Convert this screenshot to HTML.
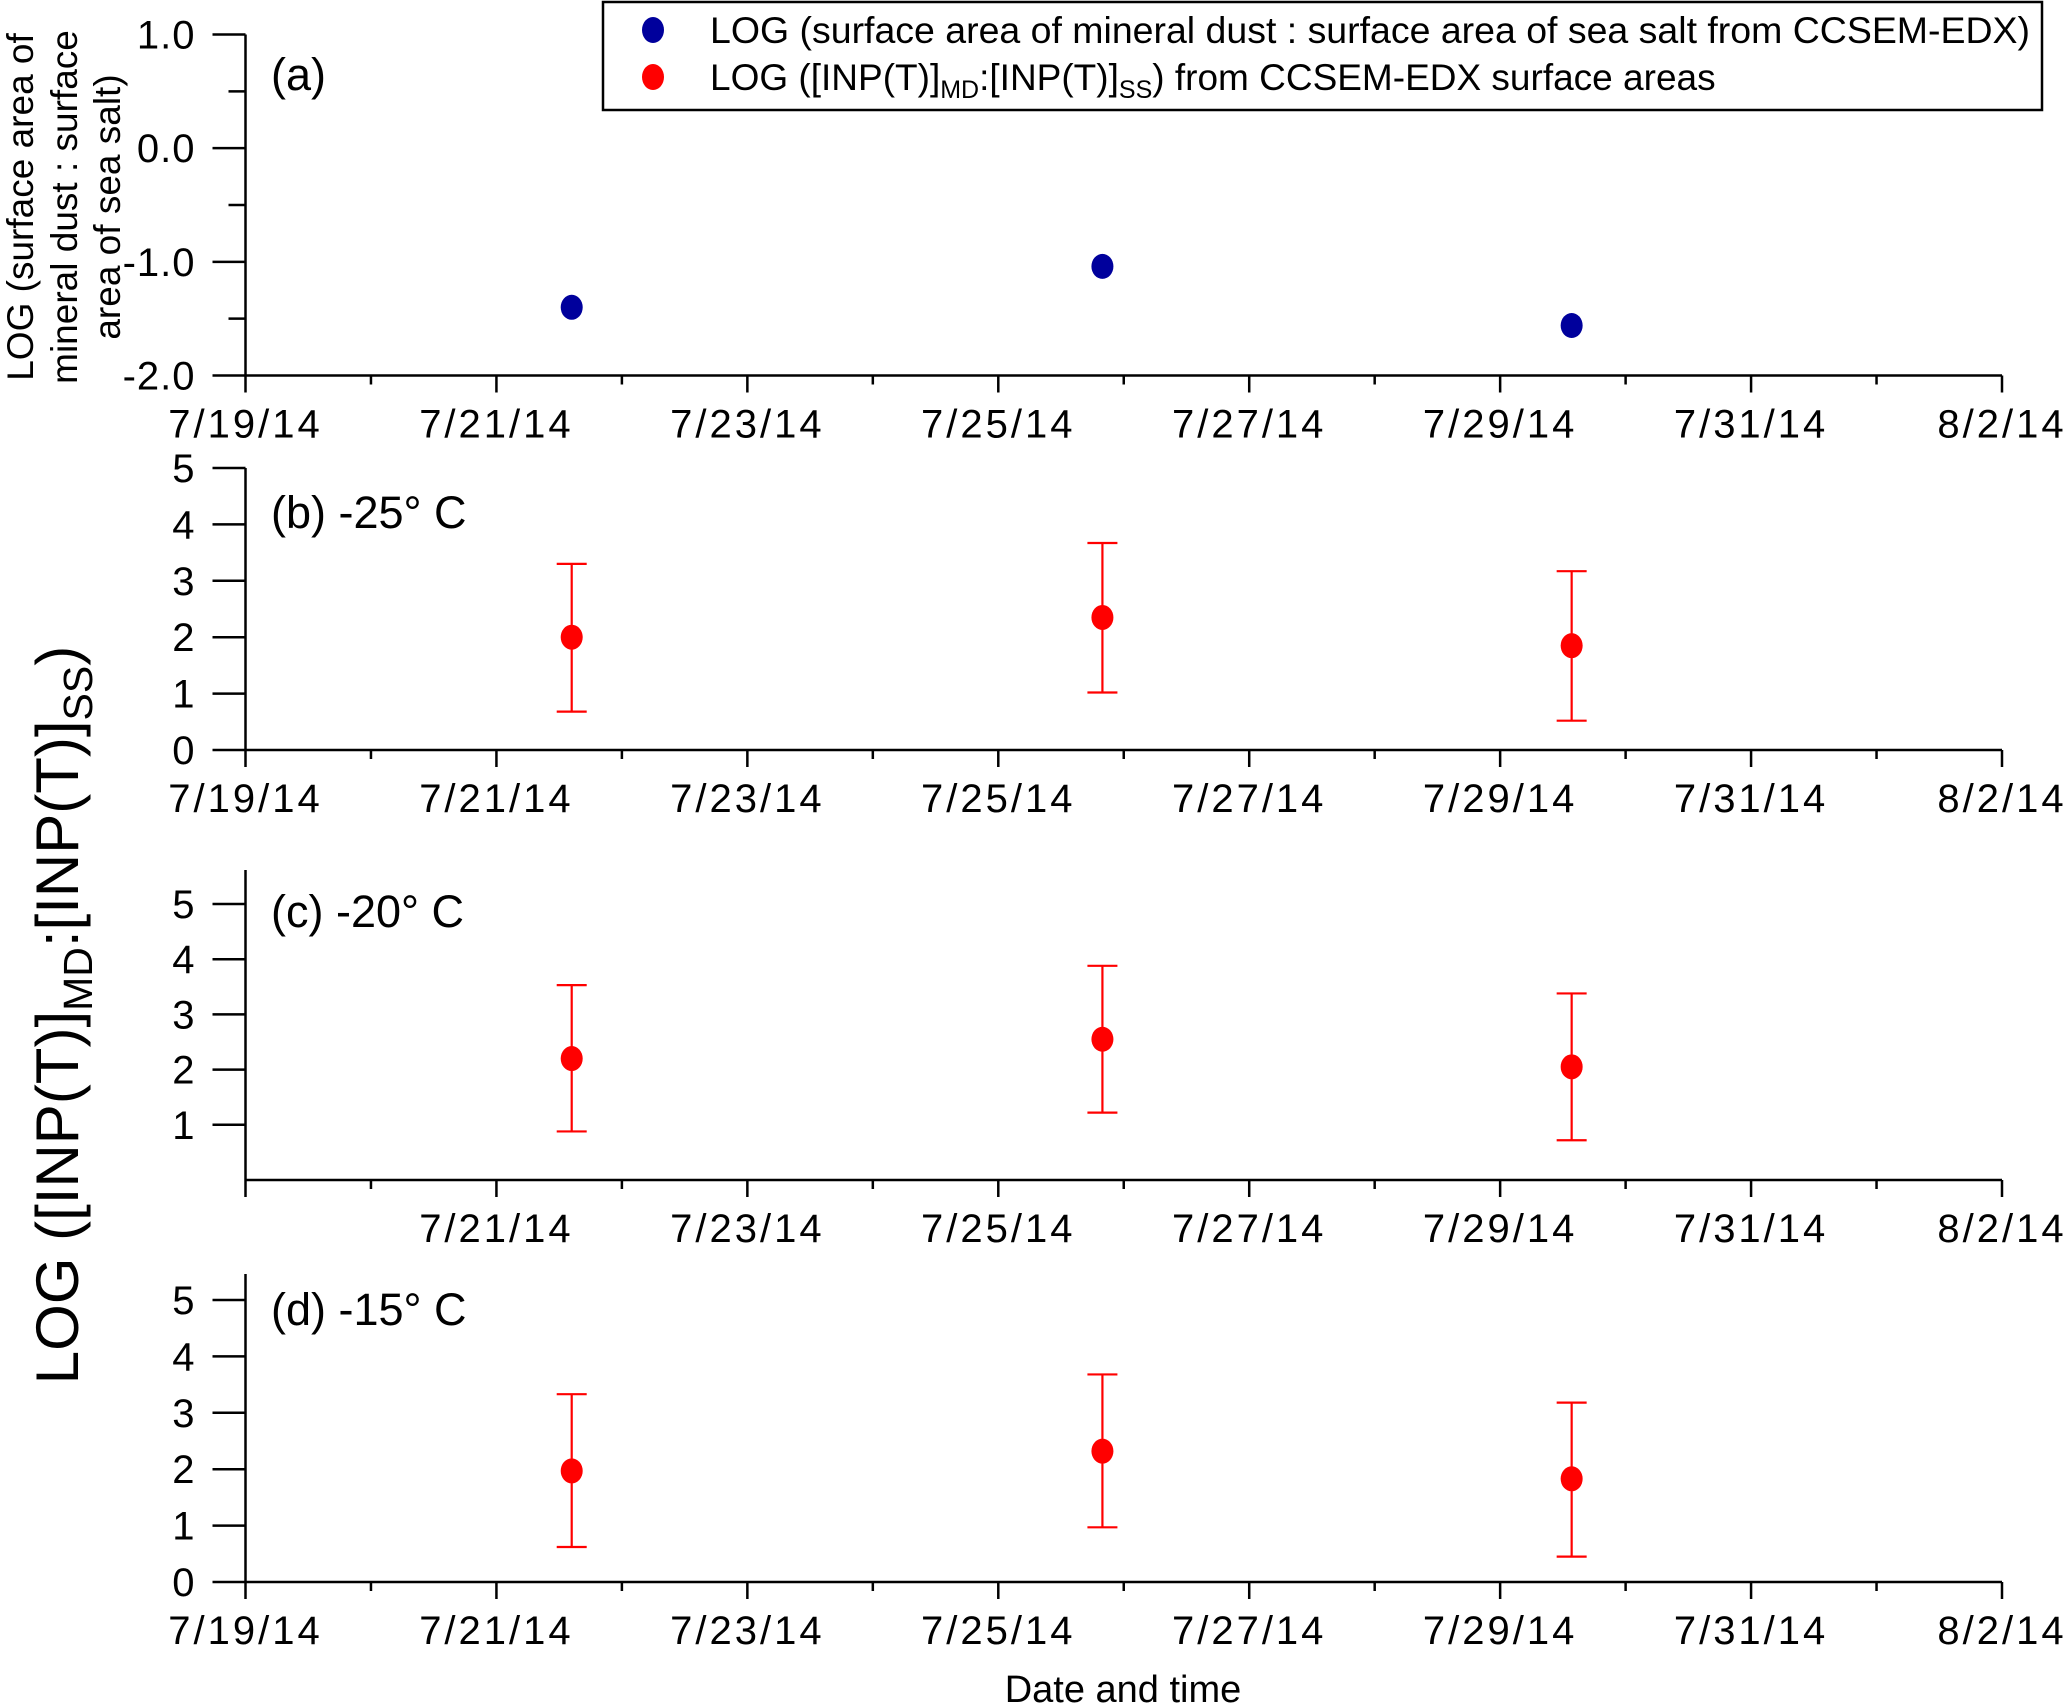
<!DOCTYPE html>
<html><head><meta charset="utf-8">
<style>
html,body{margin:0;padding:0;background:#fff;}
svg{display:block;font-family:"Liberation Sans",Arial,sans-serif;}
</style></head>
<body>
<svg id="chart" width="2067" height="1706" viewBox="0 0 2067 1706" xmlns="http://www.w3.org/2000/svg">
  <g id="legend">
    <rect x="603" y="2" width="1439" height="108" fill="#fff" stroke="#000" stroke-width="2.5"/>
    <g>
      <ellipse cx="653" cy="30" rx="11" ry="13" fill="#00009c"/>
      <text x="710" y="43" font-size="37" textLength="1320" lengthAdjust="spacingAndGlyphs">LOG (surface area of mineral dust : surface area of sea salt from CCSEM-EDX)</text>
    </g>
    <g>
      <ellipse cx="653" cy="77" rx="11" ry="13" fill="#ff0000"/>
      <text x="710" y="90" font-size="37">LOG ([INP(T)]<tspan font-size="25" dy="8">MD</tspan><tspan dy="-8">:[INP(T)]</tspan><tspan font-size="25" dy="8">SS</tspan><tspan dy="-8">) from CCSEM-EDX surface areas</tspan></text>
    </g>
  </g>
  <g font-size="37">
    <text transform="translate(33,207) rotate(-90)" text-anchor="middle">LOG (surface area of</text>
    <text transform="translate(77,207) rotate(-90)" text-anchor="middle">mineral dust : surface</text>
    <text transform="translate(120,207) rotate(-90)" text-anchor="middle">area of sea salt)</text>
  </g>
  <text transform="translate(78,1015) rotate(-90)" text-anchor="middle" font-size="60">LOG ([INP(T)]<tspan font-size="41" dy="14">MD</tspan><tspan dy="-14">:[INP(T)]</tspan><tspan font-size="41" dy="14">SS</tspan><tspan dy="-14">)</tspan></text>
  <text x="1123" y="1702" text-anchor="middle" font-size="38">Date and time</text>
</svg>
<script>
// ---- data ----
const dateTickLabels = ["7/19/14","7/21/14","7/23/14","7/25/14","7/27/14","7/29/14","7/31/14","8/2/14"];
const sampleDays = [2.6, 6.83, 10.57]; // days after 7/19/14
const surfaceRatioA = [-1.40, -1.04, -1.56];
const inpB = [2.0, 2.35, 1.85];
const inpBLow = [0.68, 1.02, 0.52];
const inpBHigh = [3.3, 3.67, 3.17];
const inpC = [2.2, 2.55, 2.05];
const inpCLow = [0.88, 1.22, 0.72];
const inpCHigh = [3.53, 3.88, 3.38];
const inpD = [1.97, 2.32, 1.83];
const inpDLow = [0.62, 0.97, 0.45];
const inpDHigh = [3.33, 3.68, 3.18];
const yTicksA = [-2.0, -1.0, 0.0, 1.0];
const yTicksINP = [0,1,2,3,4,5];

const svg = document.getElementById('chart');
const NS = 'http://www.w3.org/2000/svg';
function mk(tag, attrs, parent){
  const e = document.createElementNS(NS, tag);
  for (const k in attrs) e.setAttribute(k, attrs[k]);
  parent.appendChild(e);
  return e;
}
const X0 = 245.5, X1 = 2002, NDAYS = 14;
function xScale(d){ return X0 + (X1 - X0) * d / NDAYS; }

function panel(cfg){
  const g = mk('g', {}, svg);
  
  
  const yS = v => cfg.yBot + (cfg.yTop - cfg.yBot) * (v - cfg.vMin) / (cfg.vMax - cfg.vMin);
  const ya = mk('line', {x1:X0, y1:cfg.axisTop, x2:X0, y2:cfg.yBot, stroke:'#000','stroke-width':2.5}, g);
  
  
  const xa = mk('line', {x1:X0, y1:cfg.yBot, x2:X1, y2:cfg.yBot, stroke:'#000','stroke-width':2.5}, g);
  
  
  cfg.yTicks.forEach(v => {
    if (cfg.skipZeroLabel && v === 0) return;
    const y = yS(v);
    mk('line', {x1:X0-33, y1:y, x2:X0, y2:y, stroke:'#000','stroke-width':2.5}, g);
    const t = mk('text', {x:X0-50, y:y+14, 'text-anchor':'end','font-size':40,'letter-spacing':1}, g);
    t.textContent = cfg.fmt(v);
    
    
  });
  (cfg.minor||[]).forEach(v => {
    const y = yS(v);
    mk('line', {x1:X0-17, y1:y, x2:X0, y2:y, stroke:'#000','stroke-width':2.5}, g);
  });
  for (let d = 0; d <= NDAYS; d++) {
    const x = xScale(d);
    const major = d % 2 === 0;
    mk('line', {x1:x, y1:cfg.yBot, x2:x, y2:cfg.yBot + (major?17:9), stroke:'#000','stroke-width':2.5}, g);
    if (major && !(cfg.skipFirstX && d === 0)) {
      const t = mk('text', {x:x, y:cfg.yBot + 62, 'text-anchor':'middle','font-size':40,'letter-spacing':3}, g);
      t.textContent = dateTickLabels[d/2];
      
      
    }
  }
  const lab = mk('text', {x:271, y:cfg.labelY, 'font-size':45}, g);
  lab.textContent = cfg.label;
  
  
  cfg.vals.forEach((v, i) => {
    const x = xScale(sampleDays[i]);
    if (cfg.lo) {
      const eb = mk('g', {stroke:'#ff0000','stroke-width':2.2}, g);
      
      
      const yl = yS(cfg.lo[i]), yh = yS(cfg.hi[i]);
      mk('line', {x1:x, y1:yl, x2:x, y2:yh}, eb);
      mk('line', {x1:x-15, y1:yl, x2:x+15, y2:yl}, eb);
      mk('line', {x1:x-15, y1:yh, x2:x+15, y2:yh}, eb);
    }
    const p = mk('ellipse', {cx:x, cy:yS(v), rx:11, ry:12.5, fill:cfg.color}, g);
    
    
  });
}
panel({name:'panel-a', yTop:34.5, yBot:375.5, vMin:-2, vMax:1, axisTop:34.5, yTicks:yTicksA, minor:[-1.5,-0.5,0.5],
  fmt:v=>v.toFixed(1), label:'(a)', labelY:90, vals:surfaceRatioA, color:'#00009c'});
panel({name:'panel-b', yTop:468, yBot:750, vMin:0, vMax:5, axisTop:468, yTicks:yTicksINP,
  fmt:v=>String(v), label:'(b) -25° C', labelY:528, vals:inpB, lo:inpBLow, hi:inpBHigh, color:'#ff0000'});
panel({name:'panel-c', yTop:904, yBot:1180, vMin:0, vMax:5, axisTop:870, yTicks:yTicksINP, skipZeroLabel:true, skipFirstX:true,
  fmt:v=>String(v), label:'(c) -20° C', labelY:927, vals:inpC, lo:inpCLow, hi:inpCHigh, color:'#ff0000'});
panel({name:'panel-d', yTop:1300, yBot:1582, vMin:0, vMax:5, axisTop:1274, yTicks:yTicksINP,
  fmt:v=>String(v), label:'(d) -15° C', labelY:1325, vals:inpD, lo:inpDLow, hi:inpDHigh, color:'#ff0000'});
</script>
</body></html>
